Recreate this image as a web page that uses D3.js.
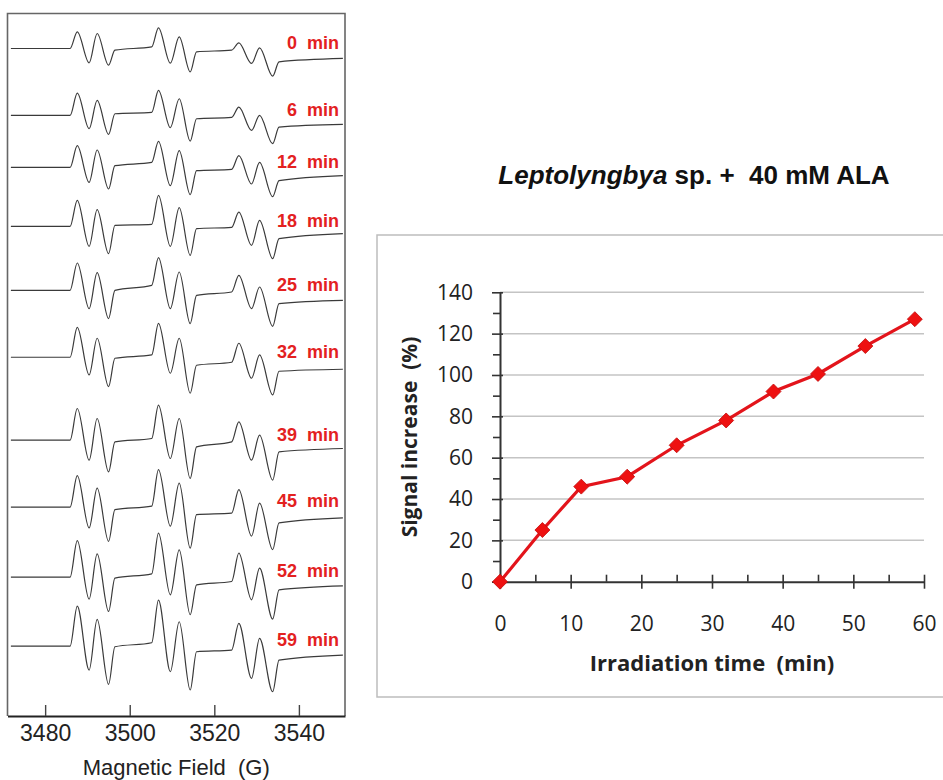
<!DOCTYPE html>
<html>
<head>
<meta charset="utf-8">
<script src="https://cdn.jsdelivr.net/npm/d3@7"></script>
<style>
  body { margin: 0; background: #fff; }
  svg { display: block; }
</style>
</head>
<body>
<div id="chart"></div>
<script>
var svgWidth = 943;
var svgHeight = 780;

// ---- EPR spectra (left panel) ----
// field positions (G) of the features:
// start, then for each of the 3 groups: rise, peak1, trough1, peak2, trough2, return ... end
var fieldPoints = [3471.9, 3485.9, 3487.6, 3490.4, 3492.3, 3495.0, 3496.5,
                   3505.2, 3506.8, 3509.6, 3511.7, 3514.3, 3515.8,
                   3524.1, 3525.8, 3528.8, 3530.7, 3533.8, 3535.3, 3550.4];
var traceTimes = [0, 6, 12, 18, 25, 32, 39, 45, 52, 59];
// vertical stacking offset of each trace (a.u.)
var traceOffsets = [668, 601, 549, 490, 426, 359, 276, 209, 139, 70];
// signal (a.u.) at each field point, per trace
var spec0  = [0, 0, 16.6, -14.4, 15.0, -16.7, -1.7, 1.6, 20.6, -14.7, 11.6, -23.4, -3.4, -1.7, 5.6, -15.0, 0.6, -27.7, -13.4, -10.0];
var spec6  = [0, 0, 22.3, -13.3, 15.0, -19.0, 1.7, 3.0, 25.0, -12.3, 16.7, -25.7, -3.3, -2.0, 8.3, -15.0, 0.0, -28.3, -11.7, -9.0];
var spec12 = [0, 0, 21.7, -15.0, 17.4, -21.6, 1.7, 5.0, 26.0, -18.3, 16.7, -27.3, -3.3, -2.0, 11.7, -16.6, 5.0, -29.3, -13.3, -8.3];
var spec18 = [0, 0, 26.0, -20.0, 16.7, -27.3, 1.0, 2.0, 31.0, -20.0, 18.7, -29.0, -2.3, -1.0, 14.3, -19.0, 6.0, -32.3, -12.3, -7.3];
var spec25 = [0, 0, 27.3, -18.3, 17.7, -28.3, 0.0, 5.0, 32.7, -18.3, 18.3, -33.3, -5.0, -1.7, 15.0, -18.3, 3.3, -36.0, -13.3, -10.0];
var spec32 = [0, 0, 30.0, -17.7, 19.0, -29.4, -1.0, 2.3, 34.0, -16.0, 19.0, -36.0, -8.0, -5.0, 14.0, -21.0, 2.3, -37.7, -14.0, -12.0];
var spec39 = [0, 0, 31.7, -20.0, 21.7, -31.7, -1.7, 1.7, 35.0, -18.3, 21.7, -38.3, -6.7, -1.7, 18.3, -20.0, 5.0, -40.0, -11.7, -8.3];
var spec45 = [0, 0, 31.5, -20.8, 19.0, -34.2, -2.5, 1.0, 37.5, -19.0, 24.0, -41.0, -7.5, -6.0, 17.5, -29.0, 4.0, -42.5, -15.8, -10.8];
var spec52 = [0, 0, 36.6, -22.0, 23.3, -34.4, -1.0, 3.3, 44.0, -17.7, 27.3, -37.7, -7.7, -4.4, 24.0, -22.7, 9.0, -42.0, -12.7, -8.7];
var spec59 = [0, 0, 40.0, -24.0, 26.7, -38.3, -0.7, 3.3, 46.0, -25.7, 24.3, -44.0, -5.7, -4.0, 22.7, -32.3, 7.7, -45.7, -14.0, -9.0];
var spectra = [spec0, spec6, spec12, spec18, spec25, spec32, spec39, spec45, spec52, spec59];
var fieldTicks = [3480, 3500, 3520, 3540];

// ---- Signal increase vs irradiation time (right panel) ----
var irrTime = [0, 6, 11.5, 18, 25, 32, 38.7, 45, 51.7, 58.7];
var signalIncrease = [0, 25, 46, 50.8, 66, 78, 92, 100.5, 114, 127];
var timeTicks = [0, 10, 20, 30, 40, 50, 60];
var timeMinor = [5, 15, 25, 35, 45, 55];
var signalTicks = [0, 20, 40, 60, 80, 100, 120, 140];
var signalMinor = [10, 30, 50, 70, 90, 110, 130];

var svg = d3.select("#chart")
  .append("svg")
  .attr("width", svgWidth)
  .attr("height", svgHeight);

// ===== left panel =====
var left = { x0: 7.5, x1: 345, top: 13.5, bottom: 716 };

var xField = d3.scaleLinear()
  .domain([3471.1, 3550.9])
  .range([left.x0, left.x1]);
var ySig = d3.scaleLinear()
  .domain([0, 703])
  .range([left.bottom, left.top]);

svg.append("path")
  .attr("d", `M${left.x0},${left.bottom}V${left.top}H${left.x1}V${left.bottom}`)
  .attr("fill", "none")
  .attr("stroke", "#666")
  .attr("stroke-width", 1.6);

var specLine = d3.line()
  .x(d => xField(d[0]))
  .y(d => ySig(d[1]))
  .curve(d3.curveMonotoneX);

var traceGroup = svg.append("g");
spectra.forEach(function(vals, i) {
  var pts = fieldPoints.map((f, j) => [f, traceOffsets[i] + vals[j]]);
  traceGroup.append("path")
    .attr("d", specLine(pts))
    .attr("fill", "none")
    .attr("stroke", "#3a3a3a")
    .attr("stroke-width", 1.2);
  traceGroup.append("text")
    .attr("x", left.x1 - 6)
    .attr("y", ySig(traceOffsets[i] + 6))
    .attr("dy", "0.35em")
    .attr("text-anchor", "end")
    .style("white-space", "pre")
    .attr("font-family", "'Liberation Sans', Arial, sans-serif")
    .attr("font-weight", "bold")
    .attr("font-size", 18)
    .attr("fill", "#e3211f")
    .text(traceTimes[i] + "  min");
});

var fieldAxis = svg.append("g")
  .attr("transform", `translate(0, ${left.bottom})`)
  .call(d3.axisBottom(xField)
    .tickValues(fieldTicks)
    .tickFormat(d3.format("d"))
    .tickSizeInner(-11)
    .tickSizeOuter(0)
    .tickPadding(9));
fieldAxis.select(".domain").attr("stroke", "#222").attr("stroke-width", 2);
fieldAxis.selectAll(".tick line").attr("stroke", "#444").attr("stroke-width", 1.4);
fieldAxis.selectAll(".tick text")
  .attr("font-family", "'Liberation Sans Narrow', 'Arial Narrow', 'Liberation Sans', sans-serif")
  .attr("font-size", 23)
  .attr("fill", "#222");

svg.append("text")
  .attr("x", (left.x0 + left.x1) / 2)
  .attr("y", 775)
  .attr("text-anchor", "middle")
  .style("white-space", "pre")
  .attr("font-family", "'Liberation Sans', Arial, sans-serif")
  .attr("font-size", 22)
  .attr("fill", "#222")
  .text("Magnetic Field  (G)");

// ===== right panel =====
svg.append("rect")
  .attr("x", 377)
  .attr("y", 235)
  .attr("width", 580)
  .attr("height", 462)
  .attr("fill", "#fff")
  .attr("stroke", "#bdbdbd")
  .attr("stroke-width", 1.5);

var title = svg.append("text")
  .attr("x", 694)
  .attr("y", 184)
  .attr("text-anchor", "middle")
  .style("white-space", "pre")
  .attr("font-family", "'Liberation Sans', Arial, sans-serif")
  .attr("font-weight", "bold")
  .attr("font-size", 26)
  .attr("fill", "#111");
title.append("tspan").attr("font-style", "italic").text("Leptolyngbya");
title.append("tspan").text(" sp. +  40 mM ALA");

var xT = d3.scaleLinear().domain([0, 60]).range([500, 924]);
var yS = d3.scaleLinear().domain([0, 140]).range([581.7, 292.3]);

var font = "'Open Sans', 'Noto Sans', sans-serif";

// gridlines
svg.append("g")
  .selectAll("line")
  .data(signalTicks.slice(1))
  .enter()
  .append("line")
  .attr("x1", xT(0))
  .attr("x2", xT(60))
  .attr("y1", d => yS(d))
  .attr("y2", d => yS(d))
  .attr("stroke", "#c4c4c4")
  .attr("stroke-width", 1.5);

// y axis
var yAxis = svg.append("g")
  .attr("transform", `translate(${xT(0)}, 0)`)
  .call(d3.axisLeft(yS)
    .tickValues(signalTicks)
    .tickSizeInner(8)
    .tickSizeOuter(0)
    .tickPadding(19));
yAxis.selectAll(".tick line").attr("x1", 3);
var yMinor = svg.append("g")
  .attr("transform", `translate(${xT(0)}, 0)`)
  .call(d3.axisLeft(yS).tickValues(signalMinor).tickSize(7).tickFormat(""));
yMinor.select(".domain").remove();

// x axis
var xAxis = svg.append("g")
  .attr("transform", `translate(0, ${yS(0)})`)
  .call(d3.axisBottom(xT)
    .tickValues(timeTicks)
    .tickSizeInner(7)
    .tickSizeOuter(0)
    .tickPadding(27));
xAxis.selectAll(".tick line").attr("y1", -7);
var xMinor = svg.append("g")
  .attr("transform", `translate(0, ${yS(0)})`)
  .call(d3.axisBottom(xT).tickValues(timeMinor).tickSize(-7).tickFormat(""));
xMinor.select(".domain").remove();

[yAxis, yMinor, xAxis, xMinor].forEach(function(ax) {
  ax.selectAll(".domain").attr("stroke", "#333").attr("stroke-width", 2);
  ax.selectAll(".tick line").attr("stroke", "#333").attr("stroke-width", 1.6);
  ax.selectAll(".tick text")
    .attr("font-family", font)
    .attr("font-size", 21)
    .attr("fill", "#222");
});

// line + markers
var sigLine = d3.line()
  .x((d, i) => xT(irrTime[i]))
  .y(d => yS(d));

svg.append("path")
  .datum(signalIncrease)
  .attr("d", sigLine)
  .attr("fill", "none")
  .attr("stroke", "#e3141b")
  .attr("stroke-width", 3.2);

svg.append("g")
  .selectAll("path")
  .data(signalIncrease)
  .enter()
  .append("path")
  .attr("d", d3.symbol(d3.symbolSquare, 112))
  .attr("transform", (d, i) => `translate(${xT(irrTime[i])}, ${yS(d)}) rotate(45)`)
  .attr("fill", "#ee1111")
  .attr("stroke", "#c40d0d")
  .attr("stroke-width", 0.8);

// axis titles
svg.append("text")
  .attr("transform", `translate(410, ${yS(70)}) rotate(-90)`)
  .attr("text-anchor", "middle")
  .attr("dy", "0.35em")
  .style("white-space", "pre")
  .attr("font-family", font)
  .attr("font-weight", "bold")
  .attr("font-size", 21)
  .attr("fill", "#222")
  .text("Signal increase  (%)");

svg.append("text")
  .attr("x", xT(30))
  .attr("y", 671)
  .attr("text-anchor", "middle")
  .style("white-space", "pre")
  .attr("font-family", font)
  .attr("font-weight", "bold")
  .attr("font-size", 22)
  .attr("fill", "#222")
  .text("Irradiation time  (min)");
</script>
</body>
</html>
